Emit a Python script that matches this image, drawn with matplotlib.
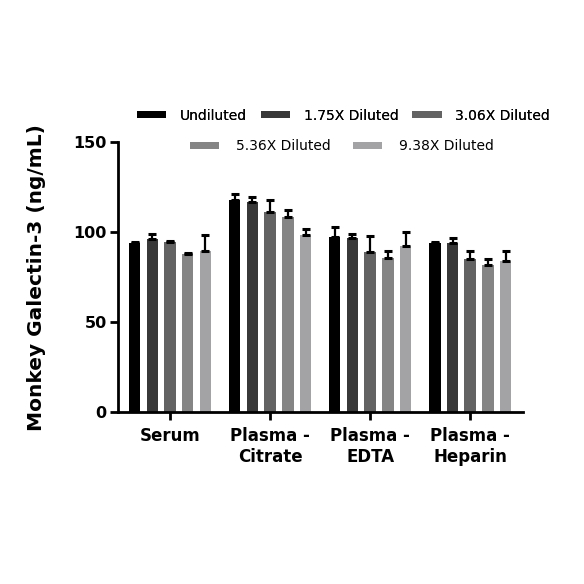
import numpy as np
import matplotlib
matplotlib.use("Agg")
import matplotlib.pyplot as plt
from matplotlib.patches import Patch

plt.rcParams['font.family'] = ['DejaVu Sans']

# data
samples = ['Serum', 'Plasma -\nCitrate', 'Plasma -\nEDTA', 'Plasma -\nHeparin']
dilutions = ['Undiluted', '1.75X Diluted', '3.06X Diluted', '5.36X Diluted', '9.38X Diluted']
colors = ['#000000', '#383838', '#636363', '#858585', '#a3a3a6']

means = [
    [94.1, 118.0, 97.4, 94.1],   # undiluted
    [96.1, 117.0, 96.7, 94.1],   # 1.75x
    [94.6, 111.2, 89.0, 85.3],   # 3.06x
    [87.9, 108.4, 85.8, 81.7],   # 5.36x
    [89.8, 98.5, 92.6, 84.1],    # 9.38x
]
errs = [
    [0.6, 3.5, 5.6, 0.7],
    [2.7, 2.8, 2.2, 2.6],
    [0.5, 6.5, 9.1, 4.3],
    [0.5, 4.1, 4.0, 3.2],
    [8.5, 3.4, 7.8, 5.5],
]

fig = plt.figure(figsize=(5.84, 5.84), dpi=100)
ax = fig.add_axes([0.202, 0.295, 0.694, 0.461])

x = np.arange(len(samples))
step = 0.177
w = 0.115
for i, (m, e) in enumerate(zip(means, errs)):
    pos = x + (i - 2) * step
    ax.bar(pos, m, width=w, color=colors[i], edgecolor='none', zorder=2)
    ax.errorbar(pos, m, yerr=[np.zeros(len(e)), e], fmt='none', ecolor='black',
                elinewidth=1.6, capsize=2.9, capthick=2.2, zorder=3)

ax.set_xlim(-0.52, 3.53)
ax.set_ylim(0, 150)
ax.set_yticks([0, 50, 100, 150])
ax.set_xticks(x)
ax.set_xticklabels(samples, fontsize=12, fontweight='bold', linespacing=1.25)
for lab in ax.get_yticklabels():
    lab.set_fontsize(11.5)
    lab.set_fontweight('bold')
ax.spines['top'].set_visible(False)
ax.spines['right'].set_visible(False)
ax.spines['left'].set_linewidth(2)
ax.spines['bottom'].set_linewidth(2)
ax.tick_params(axis='both', width=2, length=6, direction='out')
ax.tick_params(axis='x', pad=5)
ax.tick_params(axis='y', pad=2)
ax.set_ylabel('Monkey Galectin-3 (ng/mL)', fontsize=14.5, fontweight='bold', labelpad=20)

handles = [Patch(facecolor=c, edgecolor='none') for c in colors]
leg1 = fig.legend(handles[:3], dilutions[:3], loc='center', bbox_to_anchor=(0.588, 0.802),
                  ncol=3, frameon=False, fontsize=10, handlelength=2.1, handleheight=0.4,
                  handletextpad=1.0, columnspacing=1.0)
fig.add_artist(leg1)
fig.legend(handles[3:], dilutions[3:], loc='center', bbox_to_anchor=(0.585, 0.75),
           ncol=2, frameon=False, fontsize=10, handlelength=2.1, handleheight=0.4,
           handletextpad=1.2, columnspacing=1.6)

fig.savefig('out.png', dpi=100)
